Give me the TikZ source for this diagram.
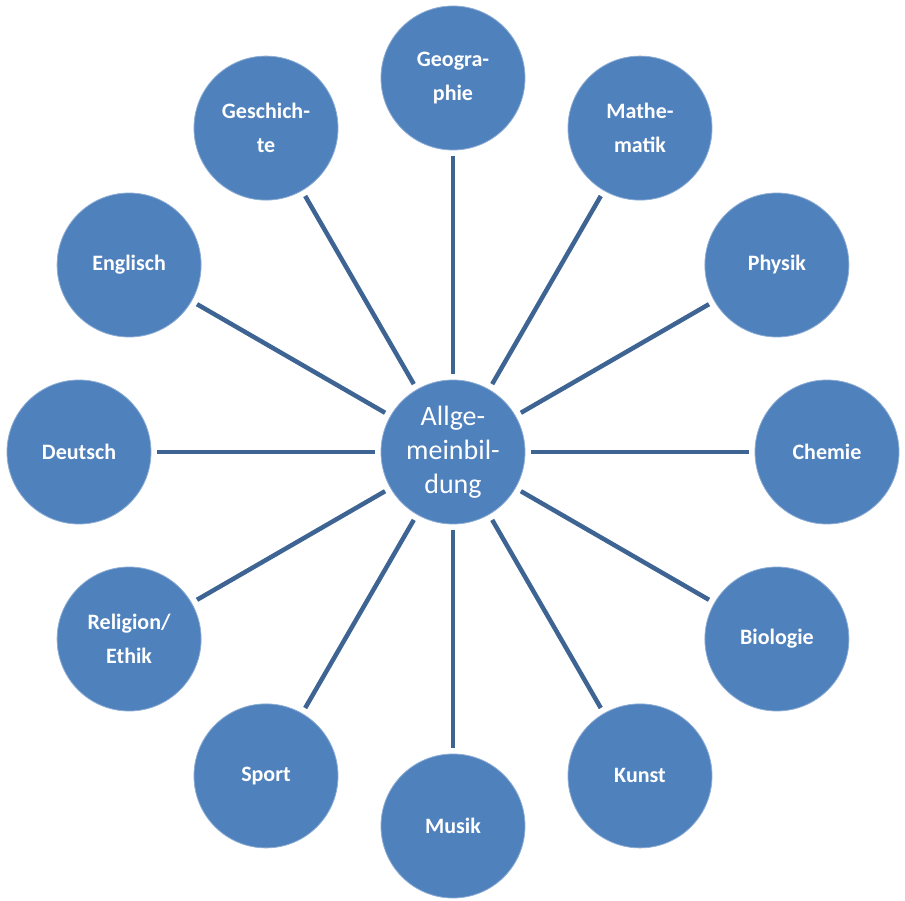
\documentclass[tikz,border=0pt]{standalone}
\usepackage{fontspec}
\setmainfont{Carlito}
\usepackage{tikz}
\usetikzlibrary{positioning}
\definecolor{subjcolor}{RGB}{79,129,189}
\definecolor{spokecolor}{RGB}{62,100,148}

\begin{document}
\begin{tikzpicture}[
    x=1pt, y=1pt,
    subject/.style={circle, fill=subjcolor, draw=white!35!subjcolor, line width=0.8pt, minimum size=144pt, inner sep=0pt, text=white, align=center, font=\fontsize{22}{34}\selectfont\bfseries},
    hub/.style={subject, font=\fontsize{28}{34}\selectfont},
    spoke/.style={draw=spokecolor, line width=4.5pt, shorten <=6pt, shorten >=6pt}
]
    \useasboundingbox (-453,-448) rectangle (452,452);
    % Centre
    \node[hub] (allg) at (0,0) {Allge-\\meinbil-\\dung};

    % Subjects around the centre
    \node[subject] (geo) at (90:374) {Geogra-\\phie};
    \node[subject] (mathe) at (60:374) {Mathe-\\matik};
    \node[subject] (phys) at (30:374) {Physik};
    \node[subject] (chem) at (0:374) {Chemie};
    \node[subject] (bio) at (-30:374) {Biologie};
    \node[subject] (kunst) at (-60:374) {Kunst};
    \node[subject] (musik) at (-90:374) {Musik};
    \node[subject] (sport) at (-120:374) {Sport};
    \node[subject] (reli) at (-150:374) {Religion/\\Ethik};
    \node[subject] (deutsch) at (180:374) {Deutsch};
    \node[subject] (engl) at (150:374) {Englisch};
    \node[subject] (gesch) at (120:374) {Geschich-\\te};

    % Spokes
    \foreach \n in {geo,mathe,phys,chem,bio,kunst,musik,sport,reli,deutsch,engl,gesch}
        \draw[spoke] (allg) -- (\n);
\end{tikzpicture}
\end{document}
